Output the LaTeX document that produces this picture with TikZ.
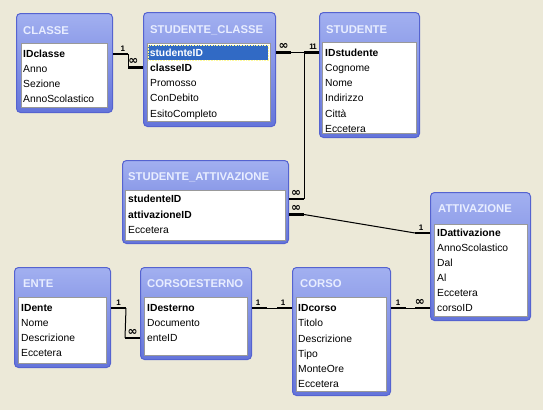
\documentclass[tikz,border=0pt]{standalone}
\usepackage{fontspec}
\setmainfont{Liberation Sans}
\newfontfamily\simboli{DejaVu Sans}
\definecolor{sfondo}{HTML}{ECE9D8}
\definecolor{cornicealta}{HTML}{A2B0F0}
\definecolor{cornicebassa}{HTML}{6474DA}
\definecolor{bordo}{HTML}{5563D0}
\definecolor{testatitolo}{HTML}{E8EDFF}
\definecolor{selezione}{HTML}{316AC5}

\begin{document}
\begin{tikzpicture}[x=1pt,y=-1pt,
        tabella/.style={draw=bordo,line width=1pt,rounded corners=4pt,top color=cornicealta,bottom color=cornicebassa,anchor=north west,inner sep=0pt},
        lista/.style={draw=gray!80,fill=white,line width=0.8pt,anchor=north west,inner sep=0pt},
        titolo/.style={anchor=west,inner sep=0pt,text=testatitolo,font=\fontsize{11.3}{13}\selectfont\bfseries},
        campo/.style={anchor=west,inner sep=0pt,text height=7.4pt,text depth=0pt,font=\fontsize{10.3}{12}\selectfont},
        chiave/.style={campo,font=\fontsize{10.3}{12}\selectfont\bfseries},
        stub/.style={line width=2.6pt},
        rel/.style={line width=1pt},
        card/.style={above=1.6pt,inner sep=0pt,font=\fontsize{8}{9}\selectfont\bfseries},
        molti/.style={card,font=\simboli\bfseries\fontsize{12}{12}\selectfont}
    ]

    \useasboundingbox (0,0) rectangle (543,410);
    \fill[sfondo] (0,0) rectangle (543,410);

    % CLASSE
    \node[tabella,minimum width=96pt,minimum height=99pt] (cl) at (16,13) {};
    \node[titolo] (cl-t) at (23,31) {CLASSE};
    \node[lista,minimum width=86pt,minimum height=64pt] (cl-l) at (21,43) {};
    \node[chiave] (cl-1) at (23,54) {IDclasse};
    \foreach \c [count=\i from 2] in {Anno,Sezione,AnnoScolastico}
        \node[campo] (cl-\i) at (23,39+15*\i) {\c};

    % STUDENTE_CLASSE
    \node[tabella,minimum width=132pt,minimum height=114pt] (sc) at (143,12) {};
    \node[titolo] (sc-t) at (150,30) {STUDENTE\_CLASSE};
    \node[lista,minimum width=123pt,minimum height=78pt] (sc-l) at (147,43) {};
    \node[chiave,fill=selezione,text=white,text width=117pt,inner xsep=1.5pt,inner ysep=3.8pt,
        draw=yellow!40,densely dotted,line width=0.6pt] (sc-1) at (148,52.5) {studenteID};
    \node[chiave] (sc-2) at (150,67.7) {classeID};
    \foreach \c [count=\i from 3] in {Promosso,ConDebito,EsitoCompleto}
        \node[campo] (sc-\i) at (150,37.3+15.2*\i) {\c};

    % STUDENTE
    \node[tabella,minimum width=100pt,minimum height=125pt] (st) at (319,12) {};
    \node[titolo] (st-t) at (326,30) {STUDENTE};
    \node[lista,minimum width=94pt,minimum height=91pt] (st-l) at (322,42) {};
    \node[chiave] (st-1) at (325,52.5) {IDstudente};
    \foreach \c [count=\i from 2] in {Cognome,Nome,Indirizzo,Città,Eccetera}
        \node[campo] (st-\i) at (325,37.3+15.2*\i) {\c};

    % STUDENTE_ATTIVAZIONE
    \node[tabella,minimum width=166pt,minimum height=83pt] (sa) at (122,160) {};
    \node[titolo] (sa-t) at (128,177) {STUDENTE\_ATTIVAZIONE};
    \node[lista,minimum width=160pt,minimum height=50pt] (sa-l) at (125,190) {};
    \node[chiave] (sa-1) at (128,199) {studenteID};
    \node[chiave] (sa-2) at (128,214.5) {attivazioneID};
    \node[campo] (sa-3) at (128,230) {Eccetera};

    % ATTIVAZIONE
    \node[tabella,minimum width=100pt,minimum height=128pt] (at) at (430,192) {};
    \node[titolo] (at-t) at (438,209) {ATTIVAZIONE};
    \node[lista,minimum width=93pt,minimum height=92pt] (at-l) at (434,224) {};
    \node[chiave] (at-1) at (437,233) {IDattivazione};
    \foreach \c [count=\i from 2] in {AnnoScolastico,Dal,Al,Eccetera,corsoID}
        \node[campo] (at-\i) at (437,218+15*\i) {\c};

    % ENTE
    \node[tabella,minimum width=96pt,minimum height=100pt] (en) at (14,267) {};
    \node[titolo] (en-t) at (23,284) {ENTE};
    \node[lista,minimum width=88pt,minimum height=66pt] (en-l) at (18,297) {};
    \node[chiave] (en-1) at (21,308) {IDente};
    \foreach \c [count=\i from 2] in {Nome,Descrizione,Eccetera}
        \node[campo] (en-\i) at (21,293+15*\i) {\c};

    % CORSOESTERNO
    \node[tabella,minimum width=111pt,minimum height=92pt] (ce) at (140,267) {};
    \node[titolo] (ce-t) at (147,284) {CORSOESTERNO};
    \node[lista,minimum width=103pt,minimum height=58pt] (ce-l) at (144,297) {};
    \node[chiave] (ce-1) at (147,308) {IDesterno};
    \foreach \c [count=\i from 2] in {Documento,enteID}
        \node[campo] (ce-\i) at (147,293+15*\i) {\c};

    % CORSO
    \node[tabella,minimum width=98pt,minimum height=128pt] (co) at (292,267) {};
    \node[titolo] (co-t) at (300,284) {CORSO};
    \node[lista,minimum width=90pt,minimum height=94pt] (co-l) at (296,297) {};
    \node[chiave] (co-1) at (298,308) {IDcorso};
    \foreach \c [count=\i from 2] in {Titolo,Descrizione,Tipo,MonteOre,Eccetera}
        \node[campo] (co-\i) at (298,292.8+15.2*\i) {\c};

    % relazioni
    \draw[stub] (cl.east |- cl-1) -- node[card,pos=.65]{1} ++(15,0) coordinate (r1a);
    \draw[stub] (sc.west |- sc-2) -- node[molti,pos=.65]{∞} ++(-15,0) coordinate (r1b);
    \draw[rel] (r1a) -- (r1b);

    \draw[stub] (sc.east |- sc-1) -- node[molti,pos=.5]{∞} ++(15,0) coordinate (r2a);
    \draw[stub] (st.west |- st-1) -- node[card,pos=.5]{1} ++(-15,0) coordinate (r2b);
    \draw[rel] (r2a) -- (r2b);

    \draw[stub] (st.west |- st-1) -- node[card,pos=.3]{1} ++(-15,0) coordinate (r3a);
    \draw[stub] (sa.east |- sa-1) -- node[molti,pos=.47]{∞} ++(15,0) coordinate (r3b);
    \draw[rel] (r3a) -- (r3b);

    \draw[stub] (sa.east |- sa-2) -- node[molti,pos=.47]{∞} ++(15,0) coordinate (r4a);
    \draw[stub] (at.west |- at-1) -- node[card,pos=.6]{1} ++(-15,0) coordinate (r4b);
    \draw[rel] (r4a) -- (r4b);

    \draw[stub] (en.east |- en-1) -- node[card,pos=.5]{1} ++(15,0) coordinate (r5a);
    \draw[stub] (ce.west |- ce-3) -- node[molti,pos=.5]{∞} ++(-15,0) coordinate (r5b);
    \draw[rel] (r5a) -- (r5b);

    \draw[stub] (ce.east |- ce-1) -- node[card,pos=.4]{1} ++(15,0) coordinate (r6a);
    \draw[stub] (co.west |- co-1) -- node[card,pos=.6]{1} ++(-15,0) coordinate (r6b);
    \draw[rel] (r6a) -- (r6b);

    \draw[stub] (co.east |- co-1) -- node[card,pos=.47]{1} ++(15,0) coordinate (r7a);
    \draw[stub] (at.west |- at-6) -- node[molti,pos=.67]{∞} ++(-15,0) coordinate (r7b);
    \draw[rel] (r7a) -- (r7b);

\end{tikzpicture}
\end{document}
